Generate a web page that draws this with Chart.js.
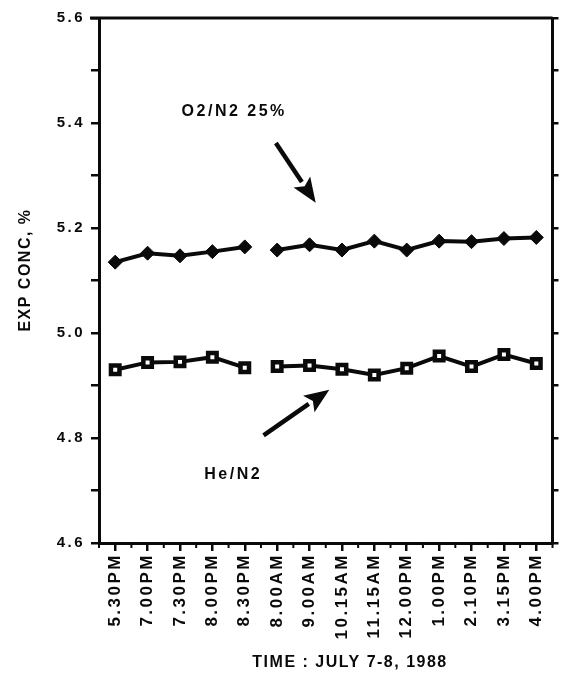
<!DOCTYPE html>
<html>
<head>
<meta charset="utf-8">
<script src="https://cdn.jsdelivr.net/npm/chart.js@4/dist/chart.umd.min.js"></script>
<style>
  html, body { margin: 0; padding: 0; background: #fff; }
  #wrap { width: 563px; height: 677px; }
</style>
</head>
<body>
<div id="wrap"><canvas id="chart" width="563" height="677"></canvas></div>
<script>
// sampling times, evening of July 7 then daytime July 8
const times = ['5.30PM', '7.00PM', '7.30PM', '8.00PM', '8.30PM', '8.00AM', '9.00AM',
               '10.15AM', '11.15AM', '12.00PM', '1.00PM', '2.10PM', '3.15PM', '4.00PM'];
// measured concentration, %
const o2n2 = [5.135, 5.152, 5.147, 5.155, 5.164, 5.158, 5.168, 5.158, 5.175, 5.158, 5.175, 5.174, 5.180, 5.182];
const hen2 = [4.930, 4.944, 4.945, 4.954, 4.934, 4.936, 4.938, 4.931, 4.920, 4.933, 4.956, 4.936, 4.959, 4.942];
// no readings overnight: line is broken after this index
const overnightBreak = 4;
const yMin = 4.6, yMax = 5.6, yStep = 0.1;

const INK = '#0a0a0a';
const FONT = "'Liberation Sans', Arial, sans-serif";

// stop the line over the overnight gap
const gapSegment = {
  borderColor: c => c.p0DataIndex === overnightBreak ? 'rgba(0,0,0,0)' : INK
};

function arrow(ctx, x0, y0, x1, y1) {
  const a = Math.atan2(y1 - y0, x1 - x0);
  const len = 25, half = 10;
  const bx = x1 - Math.cos(a) * len, by = y1 - Math.sin(a) * len;
  ctx.beginPath();
  ctx.moveTo(x0, y0);
  ctx.lineTo(bx, by);
  ctx.stroke();
  ctx.beginPath();
  ctx.moveTo(x1, y1);
  ctx.lineTo(bx - Math.sin(a) * half, by + Math.cos(a) * half);
  ctx.lineTo(bx + Math.cos(a) * 5, by + Math.sin(a) * 5);
  ctx.lineTo(bx + Math.sin(a) * half, by - Math.cos(a) * half);
  ctx.closePath();
  ctx.fill();
}

const plotFrame = {
  id: 'plotFrame',
  beforeDraw(chart) {
    chart.ctx.letterSpacing = '2.5px';
  },
  afterDraw(chart) {
    const { ctx, chartArea: a, scales: { x, y } } = chart;
    ctx.save();
    ctx.strokeStyle = INK;
    ctx.fillStyle = INK;
    // top edge of the box
    ctx.lineWidth = 3;
    ctx.beginPath();
    ctx.moveTo(a.left - 9, a.top);
    ctx.lineTo(a.right, a.top);
    ctx.stroke();
    // small ticks between the time labels
    ctx.lineWidth = 2;
    for (let i = -0.5; i < times.length; i++) {
      const px = x.getPixelForValue(i);
      ctx.beginPath();
      ctx.moveTo(px, a.bottom);
      ctx.lineTo(px, a.bottom + 5);
      ctx.stroke();
    }
    // axis titles
    ctx.font = 'bold 16px ' + FONT;
    ctx.letterSpacing = '1.5px';
    ctx.textAlign = 'center';
    ctx.textBaseline = 'middle';
    ctx.fillText('TIME : JULY 7-8, 1988', x.getPixelForValue(7.25), 663);
    ctx.save();
    ctx.translate(26, y.getPixelForValue(5.12));
    ctx.rotate(-Math.PI / 2);
    ctx.fillText('EXP CONC, %', 0, 0);
    ctx.restore();
    // series labels with pointer arrows
    ctx.textAlign = 'left';
    ctx.letterSpacing = '2.5px';
    ctx.fillText('O2/N2 25%', x.getPixelForValue(2.05), y.getPixelForValue(5.421));
    ctx.fillText('He/N2', x.getPixelForValue(2.75), y.getPixelForValue(4.731));
    ctx.lineWidth = 4.5;
    arrow(ctx, x.getPixelForValue(4.96), y.getPixelForValue(5.362),
               x.getPixelForValue(6.19), y.getPixelForValue(5.248));
    arrow(ctx, x.getPixelForValue(4.58), y.getPixelForValue(4.805),
               x.getPixelForValue(6.61), y.getPixelForValue(4.892));
    ctx.restore();
  }
};

const yTickLabel = v => {
  const k = Math.round(v * 10);
  return k % 2 === 0 ? (k / 10).toFixed(1) : '';
};

new Chart(document.getElementById('chart'), {
  type: 'line',
  data: {
    labels: times,
    datasets: [
      {
        label: 'O2/N2 25%',
        data: o2n2,
        borderColor: INK,
        borderWidth: 4,
        pointStyle: 'rectRot',
        pointRadius: 7,
        pointBackgroundColor: INK,
        pointBorderColor: INK,
        pointBorderWidth: 1,
        segment: gapSegment
      },
      {
        label: 'He/N2',
        data: hen2,
        borderColor: INK,
        borderWidth: 4,
        pointStyle: 'rect',
        pointRadius: 6,
        pointBackgroundColor: '#fff',
        pointBorderColor: INK,
        pointBorderWidth: 4.5,
        segment: gapSegment
      }
    ]
  },
  options: {
    responsive: false,
    animation: false,
    devicePixelRatio: 1,
    layout: { padding: { top: 18, right: 0, left: 0, bottom: 0 } },
    plugins: { legend: { display: false }, tooltip: { enabled: false } },
    scales: {
      x: {
        offset: true,
        grid: { display: true, drawOnChartArea: false, offset: false, color: INK, lineWidth: 2.5, tickLength: 8 },
        border: { display: true, color: INK, width: 3 },
        ticks: {
          autoSkip: false, maxRotation: 90, minRotation: 90, padding: 2,
          color: INK, font: { family: FONT, size: 17, weight: 'bold' }
        },
        afterFit: s => { s.height = 134; }
      },
      y: {
        min: yMin, max: yMax,
        grid: { display: true, drawOnChartArea: false, color: INK, lineWidth: 2.5, tickLength: 8 },
        border: { display: true, color: INK, width: 3 },
        ticks: {
          stepSize: yStep, padding: 6, color: INK, callback: yTickLabel,
          font: { family: FONT, size: 15, weight: 'bold' }
        },
        afterFit: s => { s.width = 99; }
      },
      yR: {
        position: 'right',
        min: yMin, max: yMax,
        grid: { display: true, drawOnChartArea: false, color: INK, lineWidth: 2.5, tickLength: 6 },
        border: { display: true, color: INK, width: 3 },
        ticks: { stepSize: yStep, display: false },
        afterFit: s => { s.width = 6; }
      }
    }
  },
  plugins: [plotFrame]
});
</script>
</body>
</html>
